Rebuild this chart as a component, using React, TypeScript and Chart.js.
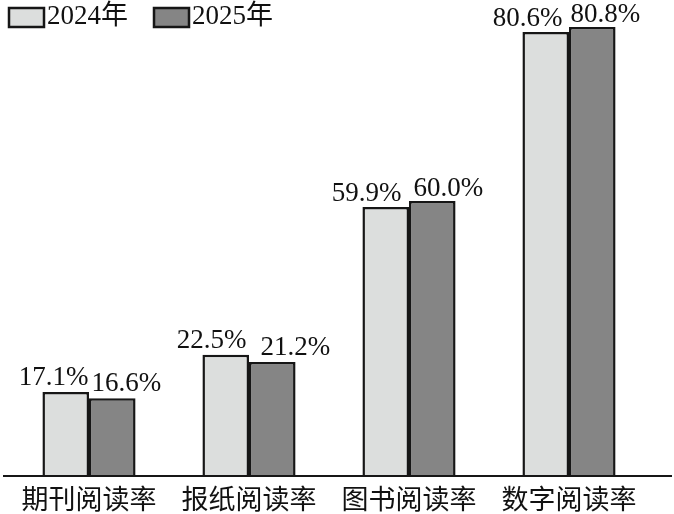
import { useEffect, useRef } from "react";
import { Chart, registerables } from "chart.js";

Chart.register(...registerables);

const categories = ["期刊阅读率", "报纸阅读率", "图书阅读率", "数字阅读率"];
const seriesNames = ["2024年", "2025年"];
// Printed labels
const labels2024 = ["17.1%", "22.5%", "59.9%", "80.6%"];
const labels2025 = ["16.6%", "21.2%", "60.0%", "80.8%"];
// Bar heights as drawn in the picture (the source figure is not strictly to scale)
const drawn2024 = [15.1, 21.8, 48.4, 79.9];
const drawn2025 = [14.0, 20.5, 49.5, 80.8];

const FONT = '"Liberation Serif", "Noto Sans CJK SC", serif';
const FILLS = ["#dcdedd", "#858585"];
const EDGE = "#161616";
const LABEL_SHIFT = [
  [[-12, -1], [-14, 0], [-19, 0], [-18, 0]],
  [[14, -1], [23, -1], [16, 1], [13, 1]],
];

const overlay = {
  id: "overlay",
  afterDraw(chart: any) {
    const { ctx } = chart;
    const base = chart.scales.y.getPixelForValue(0);
    ctx.save();
    ctx.strokeStyle = EDGE;
    ctx.lineWidth = 2;
    ctx.beginPath();
    ctx.moveTo(3, base);
    ctx.lineTo(672, base);
    ctx.stroke();

    ctx.fillStyle = "#111";
    ctx.font = `27px ${FONT}`;
    ctx.textAlign = "center";
    ctx.textBaseline = "bottom";
    [labels2024, labels2025].forEach((texts, d) => {
      chart.getDatasetMeta(d).data.forEach((bar: any, i: number) => {
        const [dx, dy] = LABEL_SHIFT[d][i];
        ctx.fillText(texts[i], bar.x + dx, bar.y + dy);
      });
    });

    ctx.textAlign = "left";
    ctx.textBaseline = "middle";
    [9, 154].forEach((x, d) => {
      ctx.fillStyle = FILLS[d];
      ctx.strokeStyle = EDGE;
      ctx.lineWidth = 2.5;
      ctx.fillRect(x, 8, 35, 19);
      ctx.strokeRect(x, 8, 35, 19);
      ctx.fillStyle = "#111";
      ctx.fillText(seriesNames[d], x + 38, 17);
    });
    ctx.restore();
  },
};

export default function App() {
  const ref = useRef<HTMLCanvasElement>(null);
  useEffect(() => {
    document.body.style.margin = "0";
    const chart = new Chart(ref.current!, {
      type: "bar",
      data: {
        labels: categories,
        datasets: [drawn2024, drawn2025].map((data, d) => ({
          label: seriesNames[d],
          data,
          backgroundColor: FILLS[d],
          borderColor: EDGE,
          borderWidth: 2.5,
          barPercentage: 1,
          categoryPercentage: 0.582,
        })),
      },
      options: {
        animation: false,
        responsive: false,
        devicePixelRatio: 1,
        layout: { padding: { left: 9, right: 25, top: 27, bottom: 0 } },
        plugins: { legend: { display: false }, tooltip: { enabled: false } },
        scales: {
          x: {
            grid: { display: false },
            border: { display: false },
            afterFit: (s: any) => {
              s.height = 38;
            },
            ticks: {
              color: "#111",
              padding: 2,
              maxRotation: 0,
              autoSkip: false,
              font: { family: FONT, size: 27 },
            },
          },
          y: { display: false, min: 0, max: 80.8 },
        },
      },
      plugins: [overlay],
    });
    return () => chart.destroy();
  }, []);
  return <canvas ref={ref} width={674} height={514} style={{ display: "block" }} />;
}
